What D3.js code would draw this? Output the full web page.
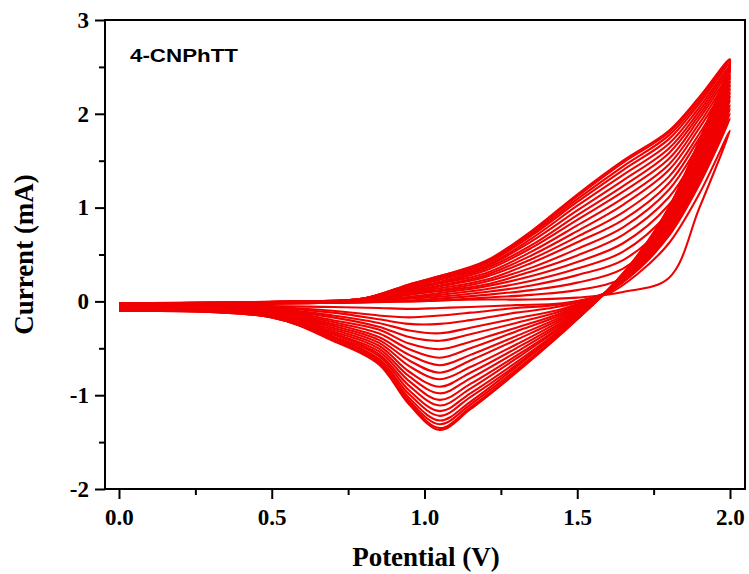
<!DOCTYPE html>
<html>
<head>
<meta charset="utf-8">
<script src="https://cdn.jsdelivr.net/npm/d3@7"></script>
<style>
  body { margin: 0; background: #fff; }
  svg { display: block; }
</style>
</head>
<body>
<div id="chart"></div>
<script>
// potential grids (V) for the anodic (forward) and cathodic (reverse) sweeps
const potentialForward = [0, 0.6, 0.8, 0.95, 1.05, 1.2, 1.35, 1.5, 1.65, 1.8, 1.9, 2.0];
const potentialReverse = [2.0, 1.9, 1.8, 1.7, 1.6, 1.45, 1.3, 1.15, 1.05, 0.95, 0.85, 0.7, 0.5, 0.0];

// current (mA) of each cycle on the forward sweep, cycle 1 first
const forwardCurrents = [
  [-0.04, -0.01, 0.00, 0.00, 0.01, 0.02, 0.02, 0.04, 0.10, 0.25, 1.00, 1.82],
  [-0.04, -0.02, -0.01, 0.00, 0.01, 0.04, 0.07, 0.12, 0.25, 0.70, 1.30, 1.95],
  [-0.04, -0.02, -0.01, 0.01, 0.03, 0.07, 0.12, 0.20, 0.35, 0.79, 1.37, 2.00],
  [-0.04, -0.02, 0.00, 0.03, 0.05, 0.10, 0.17, 0.28, 0.44, 0.87, 1.43, 2.05],
  [-0.04, -0.02, 0.00, 0.04, 0.07, 0.13, 0.22, 0.35, 0.53, 0.95, 1.50, 2.09],
  [-0.03, -0.01, 0.00, 0.05, 0.09, 0.16, 0.27, 0.42, 0.62, 1.03, 1.56, 2.14],
  [-0.03, -0.01, 0.01, 0.07, 0.11, 0.18, 0.32, 0.49, 0.71, 1.11, 1.62, 2.18],
  [-0.03, -0.01, 0.01, 0.08, 0.12, 0.21, 0.36, 0.56, 0.79, 1.19, 1.68, 2.22],
  [-0.03, -0.01, 0.01, 0.09, 0.14, 0.23, 0.41, 0.63, 0.87, 1.26, 1.74, 2.26],
  [-0.03, -0.01, 0.01, 0.10, 0.16, 0.26, 0.45, 0.69, 0.95, 1.33, 1.79, 2.30],
  [-0.03, -0.01, 0.02, 0.11, 0.17, 0.28, 0.49, 0.75, 1.03, 1.40, 1.85, 2.34],
  [-0.03, -0.01, 0.02, 0.12, 0.19, 0.30, 0.53, 0.81, 1.10, 1.46, 1.90, 2.38],
  [-0.02, -0.01, 0.02, 0.13, 0.20, 0.33, 0.57, 0.87, 1.17, 1.52, 1.95, 2.41],
  [-0.02, 0.00, 0.02, 0.14, 0.21, 0.35, 0.60, 0.92, 1.23, 1.58, 1.99, 2.45],
  [-0.02, 0.00, 0.02, 0.15, 0.23, 0.37, 0.64, 0.97, 1.29, 1.63, 2.03, 2.48],
  [-0.02, 0.00, 0.03, 0.16, 0.24, 0.38, 0.67, 1.02, 1.35, 1.68, 2.07, 2.50],
  [-0.02, 0.00, 0.03, 0.17, 0.25, 0.40, 0.70, 1.06, 1.40, 1.73, 2.11, 2.53],
  [-0.02, 0.00, 0.03, 0.17, 0.26, 0.41, 0.72, 1.09, 1.44, 1.77, 2.14, 2.55],
  [-0.02, 0.00, 0.03, 0.18, 0.27, 0.42, 0.74, 1.12, 1.48, 1.80, 2.17, 2.57],
  [-0.02, 0.00, 0.03, 0.18, 0.27, 0.43, 0.75, 1.14, 1.50, 1.82, 2.18, 2.58]
];

// current (mA) of each cycle on the reverse sweep, cycle 1 first
const reverseCurrents = [
  [1.82, 1.15, 0.62, 0.30, 0.08, -0.02, -0.04, -0.06, -0.07, -0.08, -0.07, -0.06, -0.05, -0.04],
  [1.95, 1.25, 0.70, 0.34, 0.10, -0.03, -0.07, -0.12, -0.15, -0.17, -0.15, -0.10, -0.06, -0.05],
  [2.00, 1.29, 0.72, 0.35, 0.10, -0.05, -0.12, -0.20, -0.24, -0.24, -0.19, -0.12, -0.07, -0.05],
  [2.05, 1.32, 0.75, 0.36, 0.10, -0.08, -0.18, -0.28, -0.34, -0.31, -0.23, -0.15, -0.08, -0.06],
  [2.09, 1.36, 0.77, 0.38, 0.10, -0.10, -0.23, -0.35, -0.42, -0.38, -0.27, -0.17, -0.09, -0.06],
  [2.14, 1.39, 0.79, 0.39, 0.11, -0.12, -0.28, -0.43, -0.51, -0.45, -0.30, -0.20, -0.09, -0.07],
  [2.18, 1.42, 0.81, 0.40, 0.11, -0.14, -0.32, -0.50, -0.60, -0.51, -0.34, -0.22, -0.10, -0.07],
  [2.22, 1.45, 0.83, 0.41, 0.11, -0.16, -0.37, -0.57, -0.68, -0.57, -0.38, -0.24, -0.11, -0.07],
  [2.26, 1.48, 0.85, 0.42, 0.11, -0.18, -0.41, -0.63, -0.76, -0.63, -0.41, -0.26, -0.12, -0.08],
  [2.30, 1.51, 0.87, 0.43, 0.11, -0.20, -0.46, -0.70, -0.83, -0.69, -0.44, -0.28, -0.12, -0.08],
  [2.34, 1.54, 0.89, 0.44, 0.11, -0.22, -0.50, -0.76, -0.91, -0.75, -0.47, -0.30, -0.13, -0.08],
  [2.38, 1.57, 0.90, 0.45, 0.11, -0.24, -0.54, -0.82, -0.98, -0.80, -0.50, -0.32, -0.14, -0.08],
  [2.41, 1.60, 0.92, 0.46, 0.11, -0.26, -0.58, -0.88, -1.05, -0.85, -0.53, -0.34, -0.14, -0.09],
  [2.45, 1.62, 0.94, 0.47, 0.12, -0.27, -0.61, -0.93, -1.11, -0.90, -0.56, -0.35, -0.15, -0.09],
  [2.48, 1.64, 0.95, 0.47, 0.12, -0.29, -0.65, -0.98, -1.17, -0.95, -0.58, -0.37, -0.15, -0.09],
  [2.50, 1.66, 0.96, 0.48, 0.12, -0.30, -0.68, -1.02, -1.22, -0.99, -0.61, -0.38, -0.16, -0.09],
  [2.53, 1.68, 0.98, 0.49, 0.12, -0.31, -0.70, -1.07, -1.27, -1.03, -0.63, -0.39, -0.16, -0.10],
  [2.55, 1.70, 0.99, 0.49, 0.12, -0.33, -0.73, -1.10, -1.31, -1.06, -0.65, -0.41, -0.17, -0.10],
  [2.57, 1.71, 1.00, 0.50, 0.12, -0.33, -0.75, -1.13, -1.35, -1.08, -0.66, -0.41, -0.17, -0.10],
  [2.58, 1.72, 1.00, 0.50, 0.12, -0.34, -0.76, -1.15, -1.37, -1.10, -0.67, -0.42, -0.17, -0.10]
];

const xTicks = [0, 0.5, 1.0, 1.5, 2.0];
const yTicks = [-2, -1, 0, 1, 2, 3];
const sampleLabel = "4-CNPhTT";

const width = 749, height = 574;
const margin = { left: 105, right: 4, top: 20, bottom: 85 };

const svg = d3.select("#chart")
  .append("svg")
  .attr("width", width)
  .attr("height", height);

const xScale = d3.scaleLinear()
  .domain([-0.0458, 2.0491])
  .range([margin.left, width - margin.right]);

const yScale = d3.scaleLinear()
  .domain([-2, 3])
  .range([height - margin.bottom, margin.top]);

svg.append("clipPath")
  .attr("id", "plotClip")
  .append("rect")
  .attr("x", margin.left)
  .attr("y", margin.top)
  .attr("width", width - margin.left - margin.right)
  .attr("height", height - margin.top - margin.bottom);

// one closed sweep per cycle: forward then back
const cycles = forwardCurrents.map((fwd, i) => {
  const pts = potentialForward.map((p, j) => [p, fwd[j]]);
  reverseCurrents[i].forEach((c, j) => {
    if (j > 0) pts.push([potentialReverse[j], c]);
  });
  return pts;
});

const line = d3.line()
  .x(d => xScale(d[0]))
  .y(d => yScale(d[1]))
  .curve(d3.curveCatmullRom.alpha(0.5));

svg.append("g")
  .attr("clip-path", "url(#plotClip)")
  .selectAll("path")
  .data(cycles)
  .enter()
  .append("path")
  .attr("d", line)
  .attr("fill", "none")
  .attr("stroke", "#f00000")
  .attr("stroke-width", 2.1)
  .attr("stroke-linejoin", "round");

// axes
const xMinor = d3.range(0.25, 2.0, 0.5);
const yMinor = d3.range(-1.5, 3, 1);
const y0 = height - margin.bottom;

svg.append("g")
  .attr("transform", `translate(0,${y0})`)
  .call(d3.axisBottom(xScale).tickValues(xTicks).tickFormat(d3.format(".1f")).tickSize(10).tickPadding(10));
svg.append("g")
  .attr("transform", `translate(0,${y0})`)
  .call(d3.axisBottom(xScale).tickValues(xMinor).tickFormat("").tickSize(6));

const yAxis = svg.append("g")
  .attr("transform", `translate(${margin.left},0)`)
  .call(d3.axisLeft(yScale).tickValues(yTicks).tickFormat(d3.format("d")).tickSize(10).tickPadding(6));
svg.append("g")
  .attr("transform", `translate(${margin.left},0)`)
  .call(d3.axisLeft(yScale).tickValues(yMinor).tickFormat("").tickSize(6));

svg.selectAll(".domain").remove();
svg.selectAll(".tick line").attr("stroke", "#000").attr("stroke-width", 2);
svg.selectAll(".tick text")
  .attr("fill", "#000")
  .style("font-family", "'Liberation Serif', 'Times New Roman', serif")
  .style("font-weight", "bold")
  .style("font-size", "23px");
yAxis.selectAll(".tick text").text(d => d < 0 ? "-" + Math.abs(d) : d);

// frame
svg.append("rect")
  .attr("x", margin.left)
  .attr("y", margin.top)
  .attr("width", width - margin.left - margin.right)
  .attr("height", height - margin.top - margin.bottom)
  .attr("fill", "none")
  .attr("stroke", "#000")
  .attr("stroke-width", 2);

// titles
svg.append("text")
  .attr("x", (margin.left + width - margin.right) / 2 + 1)
  .attr("y", 566)
  .attr("text-anchor", "middle")
  .style("font-family", "'Liberation Serif', 'Times New Roman', serif")
  .style("font-weight", "bold")
  .style("font-size", "27px")
  .text("Potential (V)");

svg.append("text")
  .attr("transform", `translate(33,${(margin.top + y0) / 2}) rotate(-90)`)
  .attr("text-anchor", "middle")
  .style("font-family", "'Liberation Serif', 'Times New Roman', serif")
  .style("font-weight", "bold")
  .style("font-size", "27px")
  .text("Current (mA)");

svg.append("text")
  .attr("x", 130)
  .attr("y", 62)
  .attr("textLength", 108)
  .attr("lengthAdjust", "spacingAndGlyphs")
  .style("font-family", "'Liberation Sans', Arial, sans-serif")
  .style("font-weight", "bold")
  .style("font-size", "19px")
  .text(sampleLabel);
</script>
</body>
</html>
